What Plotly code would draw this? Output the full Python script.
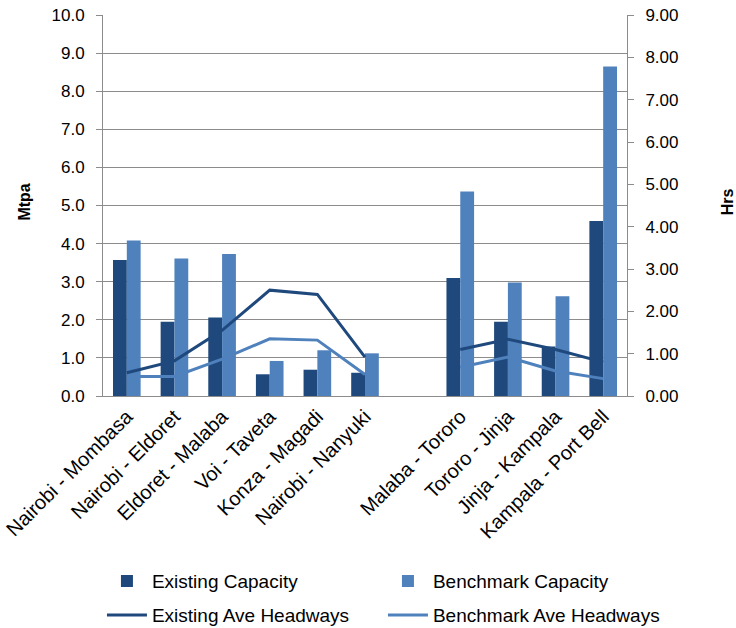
import plotly.graph_objects as go

# Route corridors; the blank entry separates the Kenyan and Ugandan groups
routes = [
    "Nairobi - Mombasa", "Nairobi - Eldoret", "Eldoret - Malaba", "Voi - Taveta",
    "Konza - Magadi", "Nairobi - Nanyuki", " ",
    "Malaba - Tororo", "Tororo - Jinja", "Jinja - Kampala", "Kampala - Port Bell",
]

# Capacity in million tonnes per annum (left axis)
existing_capacity = [3.57, 1.95, 2.06, 0.57, 0.69, 0.61, None, 3.10, 1.95, 1.30, 4.59]
benchmark_capacity = [4.08, 3.61, 3.73, 0.92, 1.20, 1.12, None, 5.37, 2.98, 2.62, 8.65]

# Average headways in hours (right axis)
existing_headways = [0.55, 0.83, 1.55, 2.50, 2.40, 0.92, None, 1.10, 1.34, 1.10, 0.80]
benchmark_headways = [0.46, 0.46, 0.87, 1.35, 1.32, 0.51, None, 0.68, 0.92, 0.59, 0.41]

left_ticks = [0, 1, 2, 3, 4, 5, 6, 7, 8, 9, 10]
right_ticks = [0, 1, 2, 3, 4, 5, 6, 7, 8, 9]

DARK = "#1F497D"
LIGHT = "#4F81BD"
GRID = "#8C8C8C"
FONT = "Liberation Sans, Arial, sans-serif"

fig = go.Figure()
# Capacity bars share the first legend row, headway lines the second
fig.add_trace(go.Bar(x=routes, y=existing_capacity, name="Existing Capacity",
                     legend="legend", marker=dict(color=DARK, line=dict(width=0))))
fig.add_trace(go.Bar(x=routes, y=benchmark_capacity, name="Benchmark Capacity",
                     legend="legend", marker=dict(color=LIGHT, line=dict(width=0))))
fig.add_trace(go.Scatter(x=routes, y=existing_headways, name="Existing Ave Headways",
                         legend="legend2", mode="lines", yaxis="y2", connectgaps=False,
                         line=dict(color=DARK, width=3)))
fig.add_trace(go.Scatter(x=routes, y=benchmark_headways, name="Benchmark Ave Headways",
                         legend="legend2", mode="lines", yaxis="y2", connectgaps=False,
                         line=dict(color=LIGHT, width=3)))

legend_style = dict(orientation="h", x=-0.002, xanchor="left", yanchor="middle",
                    entrywidth=226, entrywidthmode="pixels",
                    font=dict(family=FONT, size=19, color="#000000"),
                    itemwidth=40, bgcolor="rgba(0,0,0,0)")

fig.update_layout(
    width=736, height=628,
    margin=dict(l=103, r=109, t=15, b=232, autoexpand=False),
    paper_bgcolor="white", plot_bgcolor="white",
    font=dict(family=FONT, size=17, color="#000000"),
    barmode="group", bargap=0.42, bargroupgap=0,
    showlegend=True,
    legend=dict(y=-0.486, **legend_style),
    legend2=dict(y=-0.575, **legend_style),
    xaxis=dict(type="category", categoryorder="array", categoryarray=routes,
               tickangle=-45, showgrid=False, showline=True, linecolor=GRID,
               linewidth=1, ticks="", automargin=False,
               tickfont=dict(size=20, family=FONT)),
    yaxis=dict(range=[0, 10], tickvals=left_ticks,
               ticktext=[f"{v:.1f}" for v in left_ticks],
               showgrid=True, gridcolor=GRID, gridwidth=1,
               showline=True, linecolor=GRID, linewidth=1,
               ticks="outside", ticklen=6, tickcolor=GRID,
               ticklabelstandoff=8, automargin=False,
               zeroline=False, tickfont=dict(size=17, family=FONT)),
    yaxis2=dict(range=[0, 9], tickvals=right_ticks,
                ticktext=[f"{v:.2f}" for v in right_ticks],
                overlaying="y", side="right", showgrid=False,
                showline=True, linecolor=GRID, linewidth=1,
                ticks="outside", ticklen=6, tickcolor=GRID,
                ticklabelstandoff=8, automargin=False,
                zeroline=False, tickfont=dict(size=17, family=FONT)),
    annotations=[
        dict(text="<b>Mtpa</b>", xref="paper", yref="paper", x=-0.149, y=0.51,
             xanchor="center", yanchor="middle", textangle=-90, showarrow=False,
             font=dict(size=16, family=FONT)),
        dict(text="<b>Hrs</b>", xref="paper", yref="paper", x=1.192, y=0.51,
             xanchor="center", yanchor="middle", textangle=-90, showarrow=False,
             font=dict(size=16, family=FONT)),
    ],
)

fig.write_html("out.html")
